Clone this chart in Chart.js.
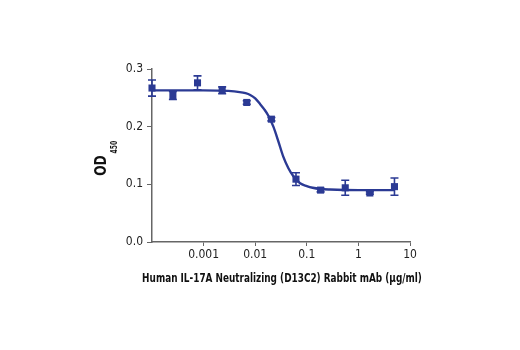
<!DOCTYPE html>
<html>
<head>
<meta charset="utf-8">
<script src="https://cdn.jsdelivr.net/npm/chart.js@4.4.0/dist/chart.umd.min.js"></script>
<style>
html, body { margin: 0; padding: 0; background: #fff; }
#wrap { width: 520px; height: 350px; }
</style>
</head>
<body>
<div id="wrap"><canvas id="odChart" width="520" height="350"></canvas></div>
<script>
// measured points (µg/ml vs OD450)
var concentration = [0.0001, 0.000254, 0.000762, 0.00229, 0.00686, 0.0206, 0.0617, 0.185, 0.556, 1.667, 5];
var odMean = [0.267, 0.254, 0.276, 0.263, 0.242, 0.213, 0.109, 0.090, 0.094, 0.085, 0.096];
var odError = [0.014, 0.007, 0.012, 0.006, 0.003, 0.003, 0.011, 0.003, 0.013, 0.002, 0.015];

// fitted curve
var fitX = [0.0001, 0.001, 0.003, 0.005, 0.0065, 0.008, 0.01, 0.0125, 0.015, 0.018, 0.0225, 0.028, 0.035, 0.044, 0.055, 0.074, 0.1, 0.13, 0.18, 0.28, 1, 5];
var fitY = [0.263, 0.263, 0.262, 0.260, 0.258, 0.255, 0.249, 0.239, 0.230, 0.219, 0.200, 0.175, 0.148, 0.128, 0.114, 0.102, 0.097, 0.094, 0.092, 0.091, 0.090, 0.090];

var xTicks = [0.001, 0.01, 0.1, 1, 10];
var yTicks = [0, 0.1, 0.2, 0.3];

var blue = '#2b3a94';
var axisGray = '#666666';
var fontFamily = '"DejaVu Sans Condensed", "Liberation Sans", sans-serif';

function toPoints(xs, ys) {
    var out = [];
    for (var i = 0; i < xs.length; i++) {
        out.push({ x: xs[i], y: ys[i] });
    }
    return out;
}

var errorBars = {
    id: 'errorBars',
    beforeDatasetsDraw: function (chart) {
        var ctx = chart.ctx;
        var xs = chart.scales.x, ys = chart.scales.y;
        ctx.save();
        ctx.strokeStyle = blue;
        ctx.lineWidth = 1.6;
        for (var i = 0; i < concentration.length; i++) {
            var px = xs.getPixelForValue(concentration[i]);
            var top = ys.getPixelForValue(odMean[i] + odError[i]);
            var bot = ys.getPixelForValue(odMean[i] - odError[i]);
            ctx.beginPath();
            ctx.moveTo(px, top); ctx.lineTo(px, bot);
            ctx.moveTo(px - 4, top); ctx.lineTo(px + 4, top);
            ctx.moveTo(px - 4, bot); ctx.lineTo(px + 4, bot);
            ctx.stroke();
        }
        ctx.restore();
    }
};

// condensed heavy titles: draw then squeeze along the text direction
var axisTitles = {
    id: 'axisTitles',
    afterDraw: function (chart) {
        var ctx = chart.ctx;
        var area = chart.chartArea;
        ctx.save();
        ctx.fillStyle = '#111';
        ctx.textAlign = 'center';
        ctx.textBaseline = 'middle';

        ctx.save();
        ctx.translate((area.left + area.right) / 2 + 1, area.bottom + 37);
        ctx.scale(0.76, 1);
        ctx.font = 'bold 13px ' + fontFamily;
        ctx.fillText('Human IL-17A Neutralizing (D13C2) Rabbit mAb (µg/ml)', 0, 0);
        ctx.restore();

        ctx.translate(area.left - 50, (area.top + area.bottom) / 2 + 10);
        ctx.rotate(-Math.PI / 2);
        ctx.scale(0.85, 1);
        ctx.font = 'bold 16px ' + fontFamily;
        ctx.fillText('OD', 0, 0);
        ctx.font = 'bold 8px ' + fontFamily;
        ctx.textAlign = 'left';
        ctx.fillText('450', 14, 13);
        ctx.restore();
    }
};

var ctx = document.getElementById('odChart').getContext('2d');
var odChart = new Chart(ctx, {
    type: 'scatter',
    data: {
        datasets: [{
            label: 'fit',
            data: toPoints(fitX, fitY),
            showLine: true,
            borderColor: blue,
            borderWidth: 2.4,
            pointRadius: 0,
            cubicInterpolationMode: 'monotone',
            clip: false,
            order: 2
        }, {
            label: 'OD450',
            data: toPoints(concentration, odMean),
            showLine: false,
            pointStyle: 'rect',
            pointRadius: 5,
            backgroundColor: blue,
            borderColor: blue,
            borderWidth: 0,
            clip: false,
            order: 1
        }]
    },
    options: {
        responsive: false,
        devicePixelRatio: 1,
        animation: false,
        layout: { padding: { left: 0, right: 110, top: 69, bottom: 0 } },
        plugins: {
            legend: { display: false },
            tooltip: { enabled: false }
        },
        scales: {
            x: {
                type: 'logarithmic',
                min: 0.0001,
                max: 10,
                afterBuildTicks: function (scale) {
                    scale.ticks = xTicks.map(function (v) { return { value: v }; });
                },
                afterFit: function (scale) { scale.height = 108; },
                ticks: {
                    color: '#222',
                    font: { family: fontFamily, size: 12 },
                    padding: 2,
                    autoSkip: false,
                    maxRotation: 0,
                    callback: function (v) { return String(v); }
                },
                grid: { display: true, drawOnChartArea: false, drawTicks: true, tickLength: 4, color: axisGray },
                border: { display: true, color: axisGray, width: 1.5 }
            },
            y: {
                type: 'linear',
                min: 0,
                max: 0.3,
                afterBuildTicks: function (scale) {
                    scale.ticks = yTicks.map(function (v) { return { value: v }; });
                },
                afterFit: function (scale) { scale.width = 152; },
                ticks: {
                    color: '#222',
                    font: { family: fontFamily, size: 12 },
                    padding: 4,
                    callback: function (v) { return v.toFixed(1); }
                },
                grid: { display: true, drawOnChartArea: false, drawTicks: true, tickLength: 5, color: axisGray },
                border: { display: true, color: axisGray, width: 1.5 }
            }
        }
    },
    plugins: [errorBars, axisTitles]
});
</script>
</body>
</html>
